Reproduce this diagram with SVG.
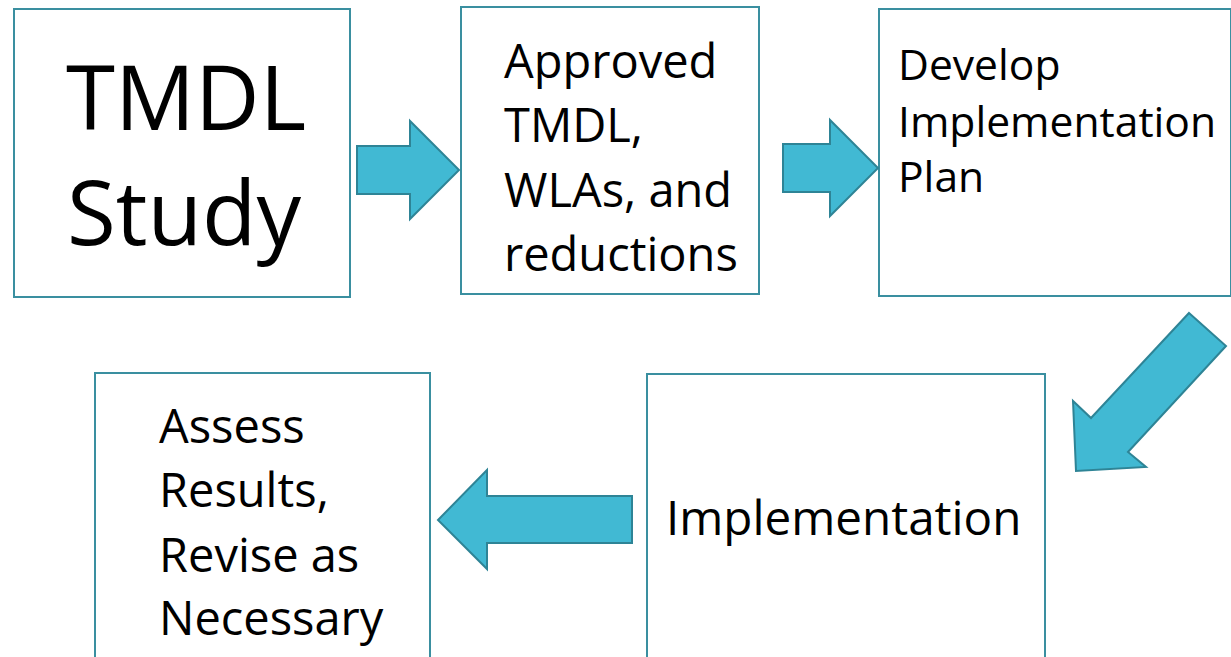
<svg xmlns="http://www.w3.org/2000/svg" width="1231" height="657" viewBox="0 0 1231 657">
<style>
.box{fill:#fff;stroke:#3a8fa0;stroke-width:2}
.arr{fill:#41b9d3;stroke:#2e8496;stroke-width:2;stroke-linejoin:miter}
text{font-family:"Open Sans","Noto Sans",sans-serif;fill:#000}
</style>
<rect width="1231" height="657" fill="#fff"/>
<g id="n1"><rect class="box" x="14" y="9" width="336" height="288"/>
<text font-size="89"><tspan x="66" y="130">TMDL</tspan><tspan x="67" y="245">Study</tspan></text></g>
<g id="n2"><rect class="box" x="461" y="7" width="298" height="287"/>
<text font-size="47"><tspan x="504" y="78">Approved</tspan><tspan x="504" y="142">TMDL,</tspan><tspan x="504" y="207">WLAs, and</tspan><tspan x="504" y="271">reductions</tspan></text></g>
<g id="n3"><rect class="box" x="879" y="9" width="352" height="287"/>
<text font-size="42.6"><tspan x="898" y="80">Develop</tspan><tspan x="898" y="137">Implementation</tspan><tspan x="898" y="192">Plan</tspan></text></g>
<g id="n4"><rect class="box" x="647" y="374" width="398" height="290"/>
<text font-size="47.6" x="666" y="535">Implementation</text></g>
<g id="n5"><rect class="box" x="95" y="373" width="335" height="290"/>
<text font-size="47"><tspan x="159" y="443">Assess</tspan><tspan x="159" y="507">Results,</tspan><tspan x="159" y="572">Revise as</tspan><tspan x="159" y="635">Necessary</tspan></text></g>
<g id="connectors">
<path class="arr" d="M357,146 H410 V121 L459,170 L410,219 V194 H357 Z"/>
<path class="arr" d="M783,144 H830 V120 L878,168 L830,216 V192 H783 Z"/>
<path class="arr" d="M1189,313 L1226,346 L1128,452 L1146,467 L1076,471 L1073,401 L1091,418 Z"/>
<path class="arr" d="M632,496 H487 V470 L438,520 L487,569 V543 H632 Z"/>
</g>
</svg>
